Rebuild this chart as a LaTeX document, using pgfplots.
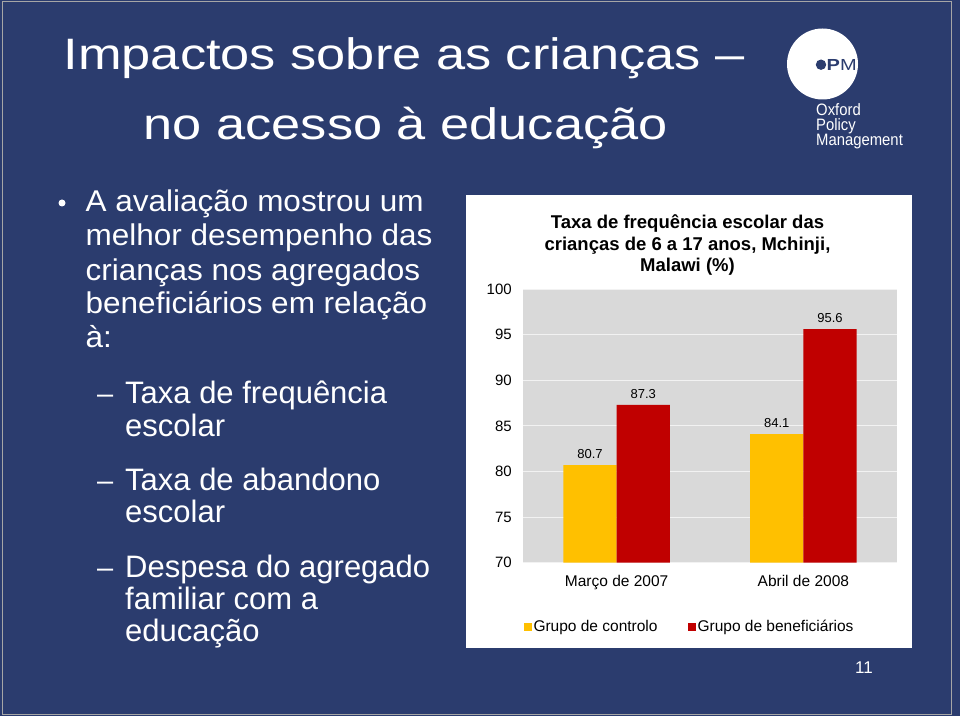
\documentclass[border=0pt]{standalone}
\usepackage{fontspec}
\setmainfont{Liberation Sans}
\usepackage{graphicx}
\usepackage{pgfplots}
\pgfplotsset{compat=1.18}
\definecolor{navy}{RGB}{43,60,110}
\definecolor{plotgray}{RGB}{217,217,217}
\definecolor{gridc}{RGB}{242,242,242}
\definecolor{ctrl}{RGB}{255,192,0}
\definecolor{benef}{RGB}{192,0,0}
\newcommand{\fs}[1]{\fontsize{#1}{#1}\selectfont}
\begin{document}
\begin{tikzpicture}[x=1pt,y=1pt]
\useasboundingbox (0,0) rectangle (960,716);
\fill[navy] (0,0) rectangle (960,716);
\draw[gray!70, line width=0.8pt] (2.5,2) rectangle (951.5,714.5);
% slide title
\node[anchor=base west, inner sep=0, text=white] at (63.5,646) {\scalebox{1.19}[1]{\fs{44}Impactos sobre as crianças –}};
\node[anchor=base west, inner sep=0, text=white] at (143.5,576) {\scalebox{1.19}[1]{\fs{44}no acesso à educação}};
% bullets
\fill[white] (62,513) circle (3.5);
\begin{scope}[every node/.style={anchor=base west, inner sep=0, text=white}]
\node at (85.5,504) {\scalebox{1.05}[1]{\fs{30}A avaliação mostrou um}};
\node at (85.5,470) {\scalebox{1.05}[1]{\fs{30}melhor desempenho das}};
\node at (85.5,436) {\scalebox{1.05}[1]{\fs{30}crianças nos agregados}};
\node at (85.5,402.5) {\scalebox{1.05}[1]{\fs{30}beneficiários em relação}};
\node at (85.5,369) {\scalebox{1.05}[1]{\fs{30}à:}};
\node at (97,313) {\fs{29}–};
\node at (125,313) {\fs{31}Taxa de frequência};
\node at (125,280) {\fs{31}escolar};
\node at (97,226) {\fs{29}–};
\node at (125,226) {\fs{31}Taxa de abandono};
\node at (125,194) {\fs{31}escolar};
\node at (97,139) {\fs{29}–};
\node at (125,139) {\fs{31}Despesa do agregado};
\node at (125,107) {\fs{31}familiar com a};
\node at (125,75) {\fs{31}educação};
\end{scope}
% logo
\fill[white] (822.5,652) circle (35.5);
\fill[navy] (821,651.3) circle (5.2);
\node[anchor=base west, inner sep=0, text=navy] at (826.5,645.5) {\scalebox{1.25}[1]{\fs{16}\textbf{P}M}};
\begin{scope}[every node/.style={anchor=base west, inner sep=0, text=white}]
\node at (816,600) {\scalebox{0.9}[1]{\fs{16.5}Oxford}};
\node at (816,585) {\scalebox{0.9}[1]{\fs{16.5}Policy}};
\node at (816,570) {\scalebox{0.9}[1]{\fs{16.5}Management}};
\end{scope}
\node[text=white, inner sep=0] at (864,48) {\fs{17}11};
% chart frame
\fill[white] (466,68) rectangle (912,521);
\begin{scope}[every node/.style={anchor=base, inner sep=0, text=black}]
\node at (687.5,487) {\fs{18.5}\bfseries Taxa de frequência escolar das};
\node at (687.5,465.5) {\fs{18.5}\bfseries crianças de 6 a 17 anos, Mchinji,};
\node at (687.5,444.5) {\fs{18.5}\bfseries Malawi (\%)};
\end{scope}
\begin{axis}[
  at={(523.3pt,153.3pt)}, anchor=south west,
  scale only axis, width=373.4pt, height=273.7pt,
  xmin=-0.5, xmax=1.5, ymin=70, ymax=100,
  ybar=0pt, bar width=53.3pt,
  axis background/.style={fill=plotgray},
  axis line style={draw=none},
  major tick length=0pt,
  ymajorgrids, grid style={gridc, line width=1pt},
  ytick={70,75,80,85,90,95,100},
  xtick={0,1}, xticklabels={Março de 2007, Abril de 2008},
  /pgf/number format/assume math mode=true,
  yticklabel style={font=\fs{15}, xshift=-8pt, text=black},
  xticklabel style={font=\fs{15.5}, yshift=-9pt, text=black},
  nodes near coords,
  every node near coord/.append style={font=\fs{13}, yshift=3pt, text=black},
  legend columns=2,
  legend style={draw=none, fill=none, at={(0,-0.235)}, anchor=west, font=\fs{15.5}, inner sep=0pt, /tikz/every even column/.append style={column sep=28pt}},
]
\addplot[fill=ctrl, draw=none, legend image code/.code={\fill[ctrl] (0pt,-4pt) rectangle (8pt,4pt);}] coordinates {(0,80.7) (1,84.1)};
\addplot[fill=benef, draw=none, legend image code/.code={\fill[benef] (0pt,-4pt) rectangle (8pt,4pt);}] coordinates {(0,87.3) (1,95.6)};
\legend{Grupo de controlo, Grupo de beneficiários}
\end{axis}
\end{tikzpicture}
\end{document}
